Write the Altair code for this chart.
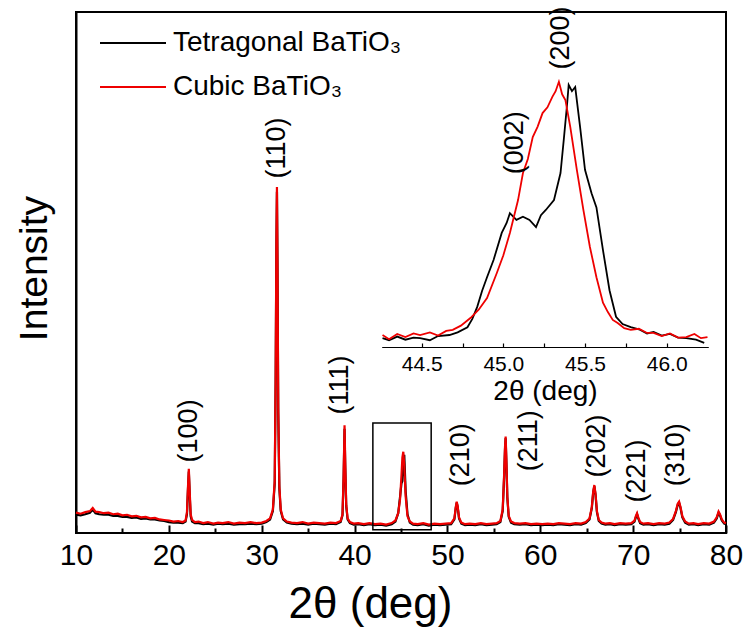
import altair as alt
import pandas as pd

# ---------------- data ----------------
TET = "Tetragonal BaTiO\u2083"
CUB = "Cubic BaTiO\u2083"

two_theta = [
    10.0, 10.5, 11.0, 11.5, 11.8, 12.1, 12.5, 13.0, 13.5, 14.0,
    14.5, 15.0, 15.5, 16.0, 16.5, 17.0, 17.5, 18.0, 18.5, 19.0,
    19.5, 20.0, 20.5, 21.0, 21.5, 21.8, 21.95, 22.05, 22.15, 22.25,
    22.35, 22.5, 22.8, 23.2, 23.7, 24.2, 24.8, 25.3, 25.8, 26.4,
    27.0, 27.6, 28.2, 28.8, 29.4, 30.0, 30.5, 30.9, 31.2, 31.4,
    31.5, 31.58, 31.64, 31.7, 31.78, 31.9, 32.05, 32.3, 32.7, 33.2,
    33.8, 34.4, 35.0, 35.6, 36.2, 36.8, 37.4, 38.0, 38.5, 38.7,
    38.82, 38.92, 39.0, 39.1, 39.25, 39.5, 39.9, 40.4, 41.0, 41.6,
    42.2, 42.8, 43.4, 44.0, 44.4, 44.7, 44.9, 45.05, 45.15, 45.25,
    45.35, 45.5, 45.7, 45.95, 46.3, 46.8, 47.4, 48.0, 48.6, 49.2,
    49.8, 50.4, 50.75, 50.9, 51.0, 51.1, 51.25, 51.5, 51.9, 52.4,
    53.0, 53.6, 54.2, 54.8, 55.3, 55.7, 55.95, 56.1, 56.2, 56.27,
    56.35, 56.45, 56.6, 56.85, 57.2, 57.8, 58.4, 59.0, 59.6, 60.2,
    60.8, 61.4, 62.0, 62.6, 63.2, 63.8, 64.4, 64.9, 65.3, 65.55,
    65.7, 65.82, 65.95, 66.1, 66.3, 66.6, 67.0, 67.5, 68.0, 68.6,
    69.2, 69.8, 70.15, 70.3, 70.42, 70.55, 70.75, 71.1, 71.6, 72.2,
    72.8, 73.4, 73.9, 74.3, 74.6, 74.8, 74.95, 75.1, 75.3, 75.6,
    76.0, 76.5, 77.0, 77.6, 78.2, 78.7, 79.0, 79.2, 79.35, 79.55,
    79.8, 80.0,
]

cubic_intensity = [
    3.9, 3.7, 4.0, 4.2, 4.8, 4.1, 4.0, 3.8, 3.9, 3.6,
    3.7, 3.4, 3.5, 3.2, 3.3, 3.0, 3.1, 2.8, 2.9, 2.6,
    2.5, 2.4, 2.2, 2.3, 2.1, 2.4, 4.0, 8.5, 12.3, 7.8,
    3.6, 2.5, 2.1, 2.2, 1.9, 2.1, 1.8, 2.0, 1.9, 2.1,
    1.8, 2.0, 1.9, 2.1, 1.9, 2.0, 2.3, 2.8, 4.5, 10.0,
    30.0, 56.0, 66.4, 52.0, 24.0, 9.0, 4.5, 2.8, 2.2, 2.0,
    1.9, 2.1, 1.8, 2.0, 1.9, 1.8, 2.0, 1.9, 2.3, 3.6,
    11.0, 20.7, 13.0, 5.5, 2.8, 2.1, 1.8, 1.9, 1.7, 1.9,
    1.7, 1.8, 1.6, 1.9, 2.4, 3.8, 6.5, 11.0, 14.5, 15.6,
    13.0, 7.0, 3.2, 2.2, 1.8, 1.7, 1.9, 1.6, 1.8, 1.7,
    1.8, 1.9, 2.8, 5.0, 6.0, 5.2, 3.0, 2.0, 1.7, 1.8,
    1.7, 1.9, 1.7, 1.8, 1.9, 2.3, 4.5, 11.0, 16.5, 18.5,
    14.0, 7.0, 3.3, 2.2, 1.9, 1.8, 1.9, 1.7, 1.8, 1.7,
    1.8, 1.7, 1.9, 1.8, 1.7, 1.9, 1.8, 2.1, 2.8, 5.0,
    8.0, 9.2, 7.5, 4.2, 2.5, 2.0, 1.8, 1.9, 1.7, 1.9,
    1.8, 1.9, 2.4, 3.3, 3.8, 3.0, 2.1, 1.8, 1.9, 1.7,
    1.9, 1.8, 2.0, 2.7, 4.2, 5.6, 6.0, 5.0, 3.2, 2.2,
    1.8, 1.9, 1.7, 1.9, 1.8, 2.2, 3.0, 4.1, 3.6, 2.6,
    2.0, 1.9,
]

tetragonal_intensity = [
    3.5, 3.4, 3.6, 3.9, 4.5, 3.8, 3.6, 3.5, 3.5, 3.3,
    3.3, 3.1, 3.1, 2.9, 3.0, 2.7, 2.8, 2.6, 2.6, 2.4,
    2.3, 2.1, 2.0, 2.0, 1.9, 2.2, 3.6, 8.0, 11.8, 7.2,
    3.2, 2.2, 1.9, 1.9, 1.7, 1.8, 1.6, 1.8, 1.7, 1.8,
    1.6, 1.7, 1.7, 1.8, 1.7, 1.8, 2.1, 2.6, 4.2, 9.5,
    29.0, 55.0, 65.5, 51.0, 23.0, 8.5, 4.2, 2.6, 2.0, 1.8,
    1.7, 1.8, 1.6, 1.8, 1.7, 1.6, 1.8, 1.7, 2.1, 3.4,
    10.5, 20.0, 12.5, 5.2, 2.6, 1.9, 1.6, 1.7, 1.5, 1.7,
    1.5, 1.6, 1.4, 1.7, 2.2, 3.8, 7.0, 9.5, 10.0, 12.5,
    15.0, 8.0, 3.6, 2.0, 1.6, 1.5, 1.7, 1.4, 1.6, 1.5,
    1.6, 1.7, 2.6, 4.8, 5.8, 5.0, 2.8, 1.8, 1.5, 1.6,
    1.5, 1.7, 1.5, 1.6, 1.7, 2.1, 4.2, 10.5, 16.0, 18.2,
    13.5, 6.8, 3.1, 2.0, 1.7, 1.6, 1.7, 1.5, 1.6, 1.5,
    1.6, 1.5, 1.7, 1.6, 1.5, 1.7, 1.6, 1.9, 2.6, 4.8,
    7.8, 9.0, 7.3, 4.0, 2.3, 1.8, 1.6, 1.7, 1.5, 1.7,
    1.6, 1.7, 2.2, 3.1, 3.6, 2.8, 1.9, 1.6, 1.7, 1.5,
    1.7, 1.6, 1.8, 2.5, 4.0, 5.4, 5.8, 4.8, 3.0, 2.0,
    1.6, 1.7, 1.5, 1.7, 1.6, 2.0, 2.8, 3.9, 3.4, 2.4,
    1.8, 1.7,
]

# peak labels of the main pattern
peak_hkl = ["(100)", "(110)", "(111)", "(210)", "(211)", "(202)", "(221)", "(310)"]
peak_label_x = [22.15, 31.6, 38.4, 51.5, 58.8, 66.1, 70.4, 74.6]
peak_label_y = [19.6, 73.9, 28.4, 15.0, 17.7, 16.7, 11.9, 15.0]

# frame drawn round the (200) peak
box_x1 = [41.97]
box_x2 = [48.25]
box_y1 = [0.6]
box_y2 = [21.1]

# inset: zoom on the 45 deg region (intensities read in the main panel's units)
inset_cub_x = [
    44.26, 44.30, 44.35, 44.40, 44.45, 44.49, 44.55, 44.60, 44.65, 44.69,
    44.74, 44.80, 44.85, 44.90, 44.96, 45.00, 45.04, 45.09, 45.12, 45.15,
    45.18, 45.21, 45.24, 45.27, 45.30, 45.32, 45.34, 45.36, 45.38, 45.41,
    45.45, 45.49, 45.53, 45.57, 45.61, 45.64, 45.67, 45.70, 45.74, 45.78,
    45.83, 45.88, 45.92, 45.97, 46.02, 46.07, 46.12, 46.17, 46.21, 46.25,
]
inset_cub_y = [
    38.0, 37.2, 38.2, 37.6, 38.3, 38.0, 38.5, 37.9, 38.8, 39.0,
    39.8, 41.3, 42.9, 45.1, 49.9, 53.3, 57.6, 63.9, 69.1, 71.8,
    76.0, 78.0, 80.6, 81.7, 83.7, 84.8, 86.6, 84.2, 83.1, 77.9,
    69.7, 62.0, 54.9, 49.1, 44.2, 42.4, 40.9, 40.3, 39.3, 39.0,
    39.2, 38.4, 38.4, 37.8, 38.3, 37.5, 37.6, 38.2, 37.4, 37.6,
]
inset_tet_x = [
    44.26, 44.30, 44.35, 44.40, 44.45, 44.49, 44.55, 44.60, 44.67, 44.72,
    44.78, 44.81, 44.84, 44.87, 44.90, 44.94, 44.99, 45.02, 45.04, 45.08,
    45.12, 45.16, 45.20, 45.23, 45.26, 45.31, 45.35, 45.37, 45.39, 45.40,
    45.42, 45.44, 45.47, 45.50, 45.54, 45.57, 45.61, 45.65, 45.69, 45.73,
    45.78, 45.83, 45.88, 45.92, 45.97, 46.02, 46.07, 46.12, 46.18, 46.23,
]
inset_tet_y = [
    37.4, 37.0, 37.7, 37.1, 37.5, 37.4, 37.0, 37.8, 38.0, 38.5,
    39.5, 41.1, 43.4, 46.5, 49.1, 52.4, 57.6, 59.5, 61.4, 60.1,
    60.7, 60.1, 58.7, 61.0, 62.0, 63.9, 69.1, 75.5, 82.2, 86.0,
    84.8, 85.6, 77.9, 69.7, 65.2, 62.5, 54.3, 46.6, 41.5, 40.1,
    39.5, 39.1, 38.3, 38.6, 37.9, 38.2, 37.5, 37.4, 37.1, 36.5,
]
inset_hkl = ["(002)", "(200)"]
inset_label_x = [45.07, 45.35]
inset_label_y = [74.9, 95.0]

main_major_ticks = [10, 20, 30, 40, 50, 60, 70, 80]
main_minor_ticks = [15, 25, 35, 45, 55, 65, 75]
inset_label_ticks = [44.5, 45.0, 45.5, 46.0]
inset_ticks = [44.5, 44.75, 45.0, 45.25, 45.5, 45.75, 46.0]

# ---------------- layout constants ----------------
W, H = 650, 521
INSET_AXIS_Y = 335          # inset axis line, in plot pixels from the top
FONT = "Liberation Sans"
RED = "#ee0000"

main_x_scale = alt.Scale(domain=[10, 80], nice=False, zero=False)
y_scale = alt.Scale(domain=[0, 100], nice=False, zero=False)
inset_x_scale = alt.Scale(domain=[44.255, 46.255], nice=False, zero=False, range=[305.7, 632.3])
color_scale = alt.Scale(domain=[TET, CUB], range=["#000000", RED])

tet_df = pd.DataFrame({"x": two_theta, "y": tetragonal_intensity, "phase": TET})
cub_df = pd.DataFrame({"x": two_theta, "y": cubic_intensity, "phase": CUB})
labels_df = pd.DataFrame({"x": peak_label_x, "y": peak_label_y, "hkl": peak_hkl})
box_df = pd.DataFrame({"x": box_x1, "x2": box_x2, "y": box_y1, "y2": box_y2})
ins_tet_df = pd.DataFrame({"x": inset_tet_x, "y": inset_tet_y, "phase": TET})
ins_cub_df = pd.DataFrame({"x": inset_cub_x, "y": inset_cub_y, "phase": CUB})
ins_labels_df = pd.DataFrame({"x": inset_label_x, "y": inset_label_y, "hkl": inset_hkl})

main_x_axis = alt.Axis(
    orient="bottom", values=main_major_ticks, ticks=False, domain=False,
    labelFontSize=30, labelPadding=7, labelFlush=False, labelColor="black",
    title="2\u03b8 (deg)", titleFontSize=44, titlePadding=12,
    titleFontWeight="normal", titleColor="black", titleX=294, titleAlign="center",
)
# the same y axis is given to every layer so the shared axis merges cleanly
y_axis = alt.Axis(
    orient="left", labels=False, ticks=False, domain=True, domainColor="black",
    domainWidth=2, title="Intensity",
    titleFontSize=39, titleFontWeight="normal", titlePadding=22, titleColor="black",
    titleY=256,
)

# wide, flat line symbol for the legend
legend = alt.Legend(
    orient="none", legendX=43, legendY=17, title=None, padding=0,
    symbolType="M-3,0L3,0", symbolSize=484, symbolStrokeWidth=2,
    labelFontSize=28, labelOffset=26, rowPadding=16, labelColor="black",
    labelLimit=500,
)


def Y():
    return alt.Y("y:Q", scale=y_scale, axis=y_axis)


tet_main = alt.Chart(tet_df).mark_line(strokeWidth=2.2).encode(
    x=alt.X("x:Q", scale=main_x_scale, axis=main_x_axis),
    y=Y(),
    color=alt.Color("phase:N", scale=color_scale, legend=legend),
)
cub_main = alt.Chart(cub_df).mark_line(strokeWidth=2.2).encode(
    x=alt.X("x:Q", scale=main_x_scale, axis=None),
    y=Y(),
    color=alt.Color("phase:N", scale=color_scale, legend=legend),
)
box = alt.Chart(box_df).mark_rect(filled=False, stroke="black", strokeWidth=1.5).encode(
    x=alt.X("x:Q", scale=main_x_scale, axis=None),
    x2="x2:Q",
    y=Y(),
    y2="y2:Q",
)
peak_text = alt.Chart(labels_df).mark_text(angle=270, fontSize=27, color="black").encode(
    x=alt.X("x:Q", scale=main_x_scale, axis=None),
    y=Y(),
    text="hkl:N",
)
major_tick_layer = alt.Chart(pd.DataFrame({"t": main_major_ticks})).mark_point(opacity=0).encode(
    x=alt.X("t:Q", scale=main_x_scale, axis=alt.Axis(
        orient="top", offset=-H, values=main_major_ticks, labels=False, domain=False,
        tickSize=8, tickWidth=2, tickColor="black", title=None)),
)
minor_tick_layer = alt.Chart(pd.DataFrame({"t": main_minor_ticks})).mark_point(opacity=0).encode(
    x=alt.X("t:Q", scale=main_x_scale, axis=alt.Axis(
        orient="top", offset=-H, values=main_minor_ticks, labels=False, domain=False,
        tickSize=5, tickWidth=2, tickColor="black", title=None)),
)

main_group = alt.layer(
    tet_main, cub_main, box, peak_text, major_tick_layer, minor_tick_layer
).resolve_axis(x="independent")

inset_axis = alt.Axis(
    orient="bottom", offset=-(H - INSET_AXIS_Y), values=inset_label_ticks, format=".1f",
    ticks=False, domain=True, domainColor="black", domainWidth=1.2,
    labelFontSize=21, labelPadding=6, labelFlush=False, labelColor="black",
    title="2\u03b8 (deg)", titleFontSize=28, titleFontWeight="normal",
    titlePadding=3, titleColor="black",
)
tet_inset = alt.Chart(ins_tet_df).mark_line(strokeWidth=1.8).encode(
    x=alt.X("x:Q", scale=inset_x_scale, axis=inset_axis),
    y=Y(),
    color=alt.Color("phase:N", scale=color_scale, legend=None),
)
cub_inset = alt.Chart(ins_cub_df).mark_line(strokeWidth=1.8).encode(
    x=alt.X("x:Q", scale=inset_x_scale, axis=None),
    y=Y(),
    color=alt.Color("phase:N", scale=color_scale, legend=None),
)
inset_text = alt.Chart(ins_labels_df).mark_text(angle=270, fontSize=27, color="black").encode(
    x=alt.X("x:Q", scale=inset_x_scale, axis=None),
    y=Y(),
    text="hkl:N",
)
inset_tick_layer = alt.Chart(pd.DataFrame({"t": inset_ticks})).mark_point(opacity=0).encode(
    x=alt.X("t:Q", scale=inset_x_scale, axis=alt.Axis(
        orient="top", offset=-INSET_AXIS_Y, values=inset_ticks, labels=False, domain=False,
        tickSize=4, tickWidth=1.2, tickColor="black", title=None)),
)

inset_group = alt.layer(
    tet_inset, cub_inset, inset_text, inset_tick_layer
).resolve_axis(x="independent")

chart = alt.layer(main_group, inset_group).resolve_scale(
    x="independent"
).properties(
    width=W, height=H,
    padding={"left": 76, "top": 12, "right": 22, "bottom": 95},
    autosize="none",
).configure(
    font=FONT,
).configure_view(
    stroke="black", strokeWidth=2,
).configure_axis(
    grid=False, labelFont=FONT, titleFont=FONT,
).configure_legend(
    labelFont=FONT,
)

chart.save("out.html", embed_options={"renderer": "svg", "actions": False})
